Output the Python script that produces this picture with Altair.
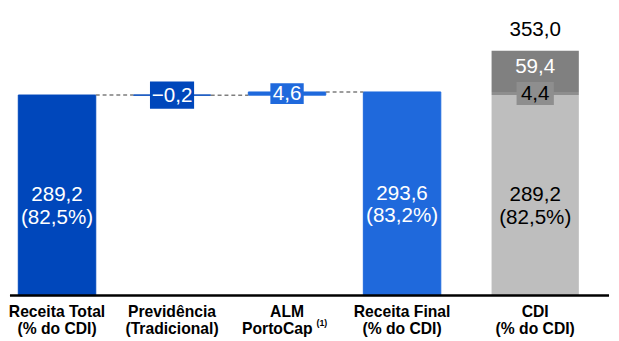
import altair as alt
import pandas as pd

# ---------------- data ----------------
categories = ["Receita Total", "Previdência", "ALM", "Receita Final", "CDI"]
axis_labels = [
    "Receita Total\n(% do CDI)",
    "Previdência\n(Tradicional)",
    "ALM",
    "Receita Final\n(% do CDI)",
    "CDI\n(% do CDI)",
]
alm_second_line = "PortoCap"
footnote_cat = "ALM"
footnote_text = "(1)"
waterfall_values = [289.2, -0.2, 4.6, 293.6]
waterfall_kind = ["total", "delta", "delta", "total"]
waterfall_pct = ["82,5%", "", "", "83,2%"]
cdi_parts = [289.2, 4.4, 59.4]
cdi_total = 353.0
cdi_pct = "82,5%"

# ---------------- styles ----------------
DARK = "#0047BB"
LIGHT = "#1F69DC"
GREY_L = "#BEBEBE"
GREY_M = "#8E8E8E"
GREY_D = "#808080"
FONT = "Liberation Sans"
BOX_PATH = "M-1,-0.62H1V0.62H-1Z"
CDI_SHIFT = 18.5


def fmt(v):
    s = f"{abs(v):.1f}".replace(".", ",")
    return ("−" + s) if v < 0 else s


# ---------------- tables ----------------
bars, connectors, texts, boxes = [], [], [], []
running = 0.0
for i, (c, v, k) in enumerate(zip(categories[:4], waterfall_values, waterfall_kind)):
    if k == "total":
        y0, y1 = 0.0, v
        color = DARK if i == 0 else LIGHT
        texts.append({"cat": c, "y": v / 2, "text": fmt(v) + "\n(" + waterfall_pct[i] + ")", "tc": "white"})
    else:
        y0, y1 = running, running + v
        color = DARK if v < 0 else LIGHT
        boxes.append({"cat": c, "y": (y0 + y1) / 2, "text": fmt(v), "bc": color, "tc": "white",
                      "bs": (11 * len(fmt(v)) + 1) ** 2})
    running = y1
    bars.append({"cat": c, "y0": y0, "y1": y1, "color": color})
    if i < 3:
        connectors.append({"from": c, "to": categories[i + 1], "level": y1})

cdi_rows = []
acc = 0.0
cdi_colors = [GREY_L, GREY_M, GREY_D]
for j, p in enumerate(cdi_parts):
    cdi_rows.append({"cat": "CDI", "y0": acc, "y1": acc + p, "color": cdi_colors[j]})
    acc += p
cdi_texts = pd.DataFrame([{"cat": "CDI", "y": cdi_parts[0] / 2,
                           "text": fmt(cdi_parts[0]) + "\n(" + cdi_pct + ")"}])
cdi_box = pd.DataFrame([{"cat": "CDI", "y": cdi_parts[0] + cdi_parts[1] / 2, "text": fmt(cdi_parts[1])}])
top_seg = pd.DataFrame([{"cat": "CDI", "y": cdi_parts[0] + cdi_parts[1] + cdi_parts[2] / 2,
                         "text": fmt(cdi_parts[2])}])
total_df = pd.DataFrame([{"cat": "CDI", "y": cdi_total, "text": fmt(cdi_total)}])

bars_df = pd.DataFrame(bars)
cdi_df = pd.DataFrame(cdi_rows)
conn_df = pd.DataFrame(connectors)
texts_df = pd.DataFrame(texts)
boxes_df = pd.DataFrame(boxes)
labels_df = pd.DataFrame({"cat": categories[:4], "label": axis_labels[:4]})
cdi_label_df = pd.DataFrame({"cat": categories[4:], "label": axis_labels[4:]})
alm_df = pd.DataFrame({"cat": [footnote_cat], "label": [alm_second_line]})
foot_df = pd.DataFrame({"cat": [footnote_cat], "label": [footnote_text]})

# ---------------- scales ----------------
xscale = alt.Scale(domain=categories, range=[8.5, 556.7], paddingInner=0.3265, paddingOuter=0)
yscale = alt.Scale(domain=[0, 410], nice=False, zero=True)
X = alt.X("cat:N", scale=xscale, axis=None, sort=categories)


def Y(field):
    return alt.Y(field, scale=yscale, axis=None)


wf = alt.Chart(bars_df).mark_bar(size=79, strokeWidth=1).encode(
    x=X, y=Y("y1:Q"), y2="y0:Q",
    fill=alt.Fill("color:N", scale=None),
    stroke=alt.Stroke("color:N", scale=None),
)

cdi = alt.Chart(cdi_df).mark_bar(size=89, xOffset=CDI_SHIFT).encode(
    x=X, y=Y("y1:Q"), y2="y0:Q",
    fill=alt.Fill("color:N", scale=None),
)

conn = alt.Chart(conn_df).mark_rule(strokeDash=[4, 3], color="#7E7E7E", strokeWidth=1.5).encode(
    x=alt.X("from:N", bandPosition=1, scale=xscale, axis=None),
    x2=alt.X2("to:N", bandPosition=0),
    y=Y("level:Q"),
)

box = alt.Chart(boxes_df).mark_point(shape=BOX_PATH, filled=True, opacity=1, strokeWidth=0).encode(
    x=X, y=Y("y:Q"),
    size=alt.Size("bs:Q", scale=None),
    fill=alt.Fill("bc:N", scale=None),
)

box_text = alt.Chart(boxes_df).mark_text(font=FONT, fontSize=21, baseline="middle", dy=1).encode(
    x=X, y=Y("y:Q"), text="text:N",
    color=alt.Color("tc:N", scale=None),
)

cdi_box_mark = alt.Chart(cdi_box).mark_point(shape=BOX_PATH, filled=True, opacity=1, strokeWidth=0,
                                             size=38 ** 2, color=GREY_M, xOffset=CDI_SHIFT).encode(
    x=X, y=Y("y:Q"),
)

cdi_box_text = alt.Chart(cdi_box).mark_text(font=FONT, fontSize=21, baseline="middle", dy=1,
                                            dx=CDI_SHIFT, color="black").encode(
    x=X, y=Y("y:Q"), text="text:N",
)

in_text = alt.Chart(texts_df).mark_text(font=FONT, fontSize=21, lineHeight=23, baseline="middle",
                                        lineBreak="\n").encode(
    x=X, y=Y("y:Q"), text="text:N",
    color=alt.Color("tc:N", scale=None),
)

cdi_in_text = alt.Chart(cdi_texts).mark_text(font=FONT, fontSize=21, lineHeight=23, baseline="middle",
                                             lineBreak="\n", color="black", dx=CDI_SHIFT).encode(
    x=X, y=Y("y:Q"), text="text:N",
)

seg_text = alt.Chart(top_seg).mark_text(font=FONT, fontSize=21, baseline="middle", dy=-4,
                                        dx=CDI_SHIFT, color="white").encode(
    x=X, y=Y("y:Q"), text="text:N",
)

tot_text = alt.Chart(total_df).mark_text(font=FONT, fontSize=21, baseline="bottom", dy=-11,
                                         dx=CDI_SHIFT, color="black").encode(
    x=X, y=Y("y:Q"), text="text:N",
)

base = alt.Chart(pd.DataFrame({"z": [0]})).mark_rule(color="black", strokeWidth=2.5).encode(
    y=Y("z:Q"),
    x=alt.value(0),
    x2=alt.value(611),
)

label_style = dict(font=FONT, fontSize=16, fontWeight="bold", lineHeight=17,
                   baseline="alphabetic", lineBreak="\n", color="black")

cat_text = alt.Chart(labels_df).mark_text(**label_style).encode(
    x=X, y=alt.value(312), text="label:N",
)

cdi_cat_text = alt.Chart(cdi_label_df).mark_text(dx=CDI_SHIFT, **label_style).encode(
    x=X, y=alt.value(312), text="label:N",
)

alm_text = alt.Chart(alm_df).mark_text(font=FONT, fontSize=16, fontWeight="bold", baseline="alphabetic",
                                       align="right", dx=26, color="black").encode(
    x=X, y=alt.value(329), text="label:N",
)

foot_text = alt.Chart(foot_df).mark_text(font=FONT, fontSize=9, fontWeight="bold", baseline="alphabetic",
                                         align="left", dx=30, color="black").encode(
    x=X, y=alt.value(321), text="label:N",
)

chart = alt.layer(
    wf, cdi, conn, box, box_text, cdi_box_mark, cdi_box_text, in_text, cdi_in_text,
    seg_text, tot_text, base, cat_text, cdi_cat_text, alm_text, foot_text,
).properties(
    width=611, height=290, padding={"left": 0, "top": 0, "right": 0, "bottom": 0}
).configure_view(stroke=None)

chart.save("out.html", embed_options={"renderer": "svg", "actions": False})
